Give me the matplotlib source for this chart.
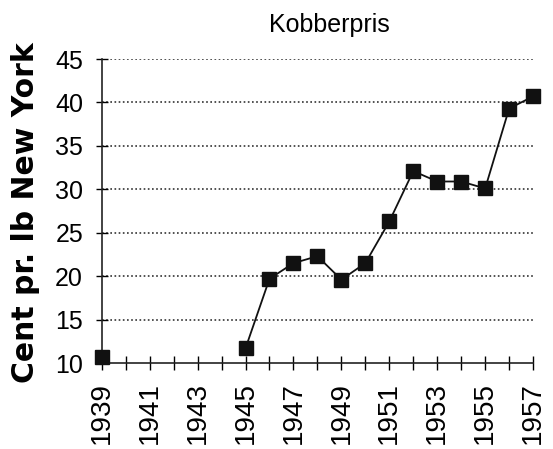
import numpy as np
import matplotlib.pyplot as plt

years = [1939, 1940, 1941, 1942, 1943, 1944, 1945, 1946, 1947, 1948,
         1949, 1950, 1951, 1952, 1953, 1954, 1955, 1956, 1957]
price = [10.7, np.nan, np.nan, np.nan, np.nan, np.nan, 11.7, 19.7, 21.5, 22.3,
         19.6, 21.5, 26.3, 32.1, 30.9, 30.9, 30.1, 39.3, 40.7]
ytick_vals = [10, 15, 20, 25, 30, 35, 40, 45]
xtick_labels = [1939, 1941, 1943, 1945, 1947, 1949, 1951, 1953, 1955, 1957]

plt.rcParams['font.family'] = ['Liberation Sans', 'DejaVu Sans']

fig = plt.figure(figsize=(5.53, 4.49), dpi=100)
ax = fig.add_axes([0.184, 0.1915, 0.78, 0.677])

ax.plot(years, price, color='#111111', lw=1.3, marker='s', ms=10,
        markerfacecolor='#111111', markeredgecolor='#111111', clip_on=False, zorder=3)

ax.set_xlim(1939, 1957)
ax.set_ylim(10, 45)
ax.set_yticks(ytick_vals)
ax.set_xticks(years, minor=True)
ax.set_xticks(xtick_labels)
ax.set_xticklabels([str(v) for v in xtick_labels], rotation=90, fontsize=20)
ax.tick_params(axis='y', labelsize=18, direction='inout', length=9, width=1, pad=9)
ax.tick_params(axis='x', which='both', direction='inout', length=10, width=1, pad=9)

for v in ytick_vals[1:]:
    ax.axhline(v, color='#333333', lw=1.2, ls=(0, (1, 1.5)), zorder=1)

for s in ['top', 'right']:
    ax.spines[s].set_visible(False)
for s in ['left', 'bottom']:
    ax.spines[s].set_linewidth(1.2)
    ax.spines[s].set_color('#222222')

fig.text(0.047, 0.527, 'Cent pr. lb New York', rotation=90, ha='center', va='center',
         fontsize=21.5, fontweight='bold', family='DejaVu Sans')
fig.text(0.595, 0.944, 'Kobberpris', ha='center', va='center', fontsize=18)

fig.savefig('out.png', dpi=100)
